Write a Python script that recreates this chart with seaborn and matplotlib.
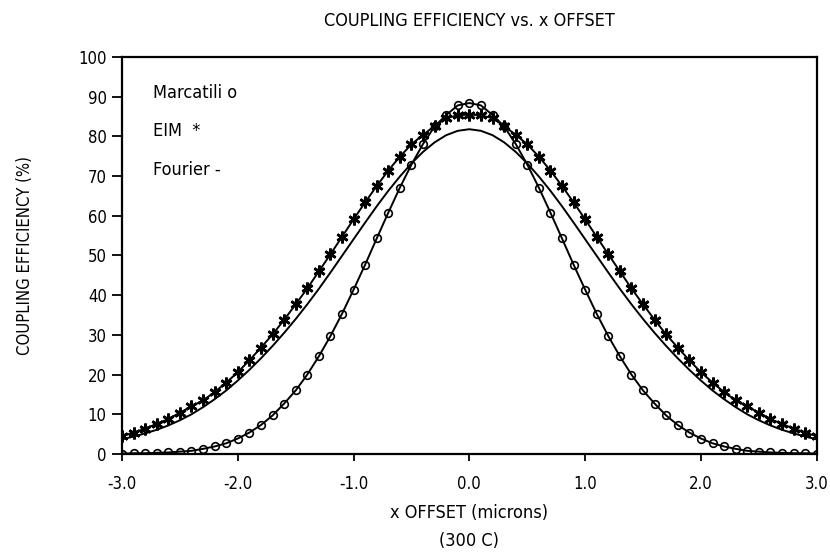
import numpy as np
import pandas as pd
import matplotlib
matplotlib.use("Agg")
import matplotlib.pyplot as plt
import seaborn as sns

# x offset in microns, one point every 0.1
x_offset = [round(-3.0 + 0.1 * i, 1) for i in range(61)]

marcatili = [0.1, 0.2, 0.2, 0.3, 0.4, 0.6, 0.8, 1.3, 1.9, 2.7,
             3.9, 5.4, 7.3, 9.7, 12.7, 16.0, 20.0, 24.6, 29.7, 35.3,
             41.4, 47.7, 54.3, 60.8, 67.1, 72.9, 78.1, 82.5, 85.4, 87.8,
             88.4,
             87.8, 85.4, 82.5, 78.1, 72.9, 67.1, 60.8, 54.3, 47.7, 41.4,
             35.3, 29.7, 24.6, 20.0, 16.0, 12.7, 9.7, 7.3, 5.4, 3.9,
             2.7, 1.9, 1.3, 0.8, 0.6, 0.4, 0.3, 0.2, 0.2, 0.1]

eim = [4.5, 5.4, 6.4, 7.6, 8.8, 10.4, 12.0, 13.5, 15.6, 18.0,
       20.6, 23.6, 26.8, 30.1, 33.8, 37.7, 41.7, 46.0, 50.3, 54.7,
       59.1, 63.4, 67.5, 71.4, 74.9, 78.0, 80.4, 82.6, 84.6, 85.3,
       85.5,
       85.3, 84.6, 82.6, 80.4, 78.0, 74.9, 71.4, 67.5, 63.4, 59.1,
       54.7, 50.3, 46.0, 41.7, 37.7, 33.8, 30.1, 26.8, 23.6, 20.6,
       18.0, 15.6, 13.5, 12.0, 10.4, 8.8, 7.6, 6.4, 5.4, 4.5]

fourier = [3.7, 4.4, 5.2, 6.1, 7.2, 8.5, 10.0, 11.8, 13.8, 16.0,
           18.5, 21.2, 24.1, 27.2, 30.5, 34.0, 37.7, 41.6, 45.7, 49.9,
           54.1, 58.3, 62.4, 66.3, 69.9, 73.2, 76.1, 78.5, 80.3, 81.4,
           81.8,
           81.4, 80.3, 78.5, 76.1, 73.2, 69.9, 66.3, 62.4, 58.3, 54.1,
           49.9, 45.7, 41.6, 37.7, 34.0, 30.5, 27.2, 24.1, 21.2, 18.5,
           16.0, 13.8, 11.8, 10.0, 8.5, 7.2, 6.1, 5.2, 4.4, 3.7]

x_ticks = [-3.0, -2.0, -1.0, 0.0, 1.0, 2.0, 3.0]
y_ticks = list(range(0, 101, 10))

df = pd.DataFrame({"x": x_offset, "Marcatili": marcatili,
                   "EIM": eim, "Fourier": fourier})

sns.set_theme(style="ticks")
plt.rcParams["font.family"] = ["DejaVu Sans"]
plt.rcParams["font.stretch"] = "condensed"
for key in ["text.color", "axes.labelcolor", "xtick.color", "ytick.color"]:
    plt.rcParams[key] = "black"

fig = plt.figure(figsize=(8.3, 5.53), dpi=100)
ax = fig.add_axes([0.147, 0.179, 0.837, 0.718])

sns.lineplot(data=df, x="x", y="Fourier", ax=ax, color="black", linewidth=1.4)
sns.lineplot(data=df, x="x", y="EIM", ax=ax, color="black", linewidth=1.4,
             marker=(6, 2, 0), markersize=8.5, markeredgewidth=1.9,
             markeredgecolor="black")
sns.lineplot(data=df, x="x", y="Marcatili", ax=ax, color="black", linewidth=1.4,
             marker="o", markersize=5.5, markerfacecolor="none",
             markeredgecolor="black", markeredgewidth=1.2)

ax.set_xlim(-3.0, 3.0)
ax.set_ylim(0, 100)
ax.set_xticks(x_ticks)
ax.set_xticklabels([f"{v:.1f}" for v in x_ticks])
ax.set_yticks(y_ticks)
ax.tick_params(axis="x", direction="out", length=5, width=1.3, labelsize=12, pad=10)
ax.tick_params(axis="y", direction="out", length=7, width=1.3, labelsize=12, pad=4)
for side in ["left", "right", "top", "bottom"]:
    ax.spines[side].set_visible(True)
    ax.spines[side].set_linewidth(1.6)
    ax.spines[side].set_color("black")

ax.set_xlabel("x OFFSET (microns)\n(300 C)", fontsize=13, labelpad=8,
              linespacing=1.75)
ax.set_ylabel("COUPLING EFFICIENCY (%)", fontsize=12, labelpad=32)
ax.set_title("COUPLING EFFICIENCY vs. x OFFSET", fontsize=13, pad=22)

ax.text(-2.73, 90.9, "Marcatili o", fontsize=13, va="center", ha="left")
ax.text(-2.73, 81.4, "EIM  *", fontsize=13, va="center", ha="left")
ax.text(-2.73, 71.5, "Fourier -", fontsize=13, va="center", ha="left")

fig.savefig("out.png", dpi=100)
